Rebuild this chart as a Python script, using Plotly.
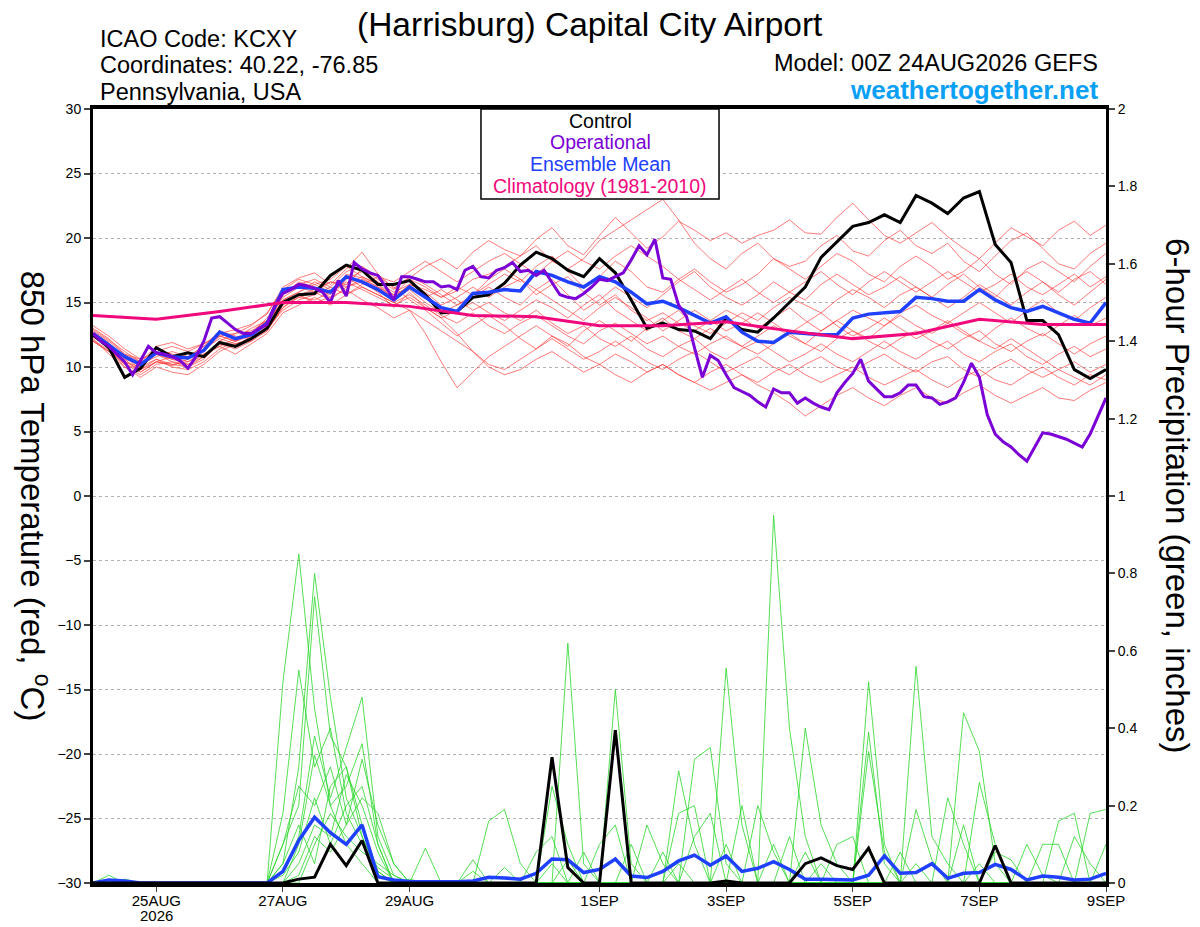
import pandas as pd
import plotly.graph_objects as go

# GEFS run 00Z 24AUG2026, 6-hourly steps out to 00Z 09SEP2026
times = pd.date_range("2026-08-24 00:00", periods=65, freq="6h")
times_3h = pd.date_range("2026-08-24 00:00", periods=129, freq="3h")
clim_days = pd.date_range("2026-08-24", periods=17, freq="D")

tick_days = ["2026-08-25", "2026-08-27", "2026-08-29", "2026-09-01",
             "2026-09-03", "2026-09-05", "2026-09-07", "2026-09-09"]
tick_text = ["25AUG", "27AUG", "29AUG", "1SEP", "3SEP", "5SEP", "7SEP", "9SEP"]

# 850 hPa temperature (C)
control_t = [12.5, 11.5, 9.2, 9.9, 11.5, 10.8, 11.1, 10.8, 11.9, 11.6,
             12.2, 13.0, 15.0, 15.6, 15.7, 17.1, 17.9, 17.5, 16.4, 16.4,
             16.7, 15.6, 14.2, 14.3, 15.4, 15.6, 16.5, 17.9, 18.9, 18.4,
             17.5, 17.0, 18.4, 17.3, 15.2, 13.0, 13.4, 12.9, 12.8, 12.2,
             13.8, 12.9, 12.7, 13.8, 15.0, 16.2, 18.5, 19.7, 20.9, 21.2,
             21.8, 21.2, 23.3, 22.7, 21.9, 23.1, 23.6, 19.5, 18.1, 13.6,
             13.6, 12.5, 9.8, 9.1, 9.8]
mean_t = [12.6, 11.7, 10.8, 10.2, 11.1, 10.8, 10.7, 11.3, 12.7, 12.2,
          12.5, 13.4, 16.0, 16.2, 16.1, 15.8, 17.0, 16.6, 16.0, 15.2,
          16.2, 15.4, 14.6, 14.3, 15.7, 15.8, 16.0, 15.9, 17.4, 17.1,
          16.6, 16.2, 17.0, 16.6, 15.8, 14.9, 15.1, 14.6, 14.0, 13.4,
          13.9, 12.7, 12.0, 11.9, 12.7, 12.6, 12.5, 12.5, 13.8, 14.1,
          14.2, 14.3, 15.4, 15.3, 15.1, 15.1, 16.0, 15.2, 14.6, 14.3,
          14.7, 14.2, 13.7, 13.4, 15.0]
# operational run is 3-hourly
oper_t = [12.6, 12.0, 11.6, 11.0, 10.4, 9.4, 10.5, 11.6, 11.1, 11.0,
          10.8, 10.5, 9.9, 10.8, 12.0, 13.8, 13.9, 13.4, 12.9, 12.6,
          12.6, 13.0, 13.3, 14.8, 15.7, 16.0, 16.4, 16.3, 16.1, 15.8,
          15.0, 16.7, 15.5, 18.1, 17.6, 17.3, 17.1, 16.2, 15.2, 17.0,
          17.0, 16.8, 16.6, 16.6, 16.2, 16.3, 16.0, 17.5, 17.8, 17.0,
          16.9, 17.5, 17.7, 18.1, 17.4, 17.5, 17.1, 17.5, 16.6, 15.6,
          15.4, 15.3, 15.7, 16.2, 16.8, 16.7, 17.0, 17.3, 18.3, 19.4,
          18.7, 19.9, 16.9, 16.8, 14.8, 13.9, 11.5, 9.2, 10.9, 10.5,
          9.4, 8.4, 8.1, 7.8, 7.3, 6.9, 8.3, 8.0, 8.0, 7.2,
          7.6, 7.2, 6.9, 6.7, 8.0, 8.8, 9.5, 10.6, 8.9, 8.3,
          7.7, 7.7, 8.0, 8.6, 8.6, 7.7, 7.6, 7.1, 7.3, 7.6,
          8.8, 10.3, 9.2, 6.3, 4.8, 4.2, 3.8, 3.2, 2.7, 3.8,
          4.9, 4.8, 4.6, 4.4, 4.1, 3.8, 4.8, 6.2, 7.6]
clim_t = [14.0, 13.7, 14.3, 15.0, 15.0, 14.7, 14.0, 13.9, 13.2, 13.2,
          13.5, 12.8, 12.2, 12.6, 13.7, 13.3, 13.3]

member_t = [
    [12.9, 12.1, 11.2, 10.4, 11.6, 11.9, 11.4, 11.8, 12.6, 12.9, 13.3, 14.1, 16.2,
     16.9, 17.3, 16.4, 17.6, 18.9, 17.2, 16.1, 16.9, 17.8, 18.4, 17.6, 18.9, 19.8,
     19.1, 18.6, 19.9, 20.8, 19.4, 18.7, 20.2, 21.6, 20.4, 19.2, 20.1, 21.3, 20.6,
     19.8, 20.4, 19.6, 20.2, 20.6, 21.4, 20.4, 20.3, 21.6, 22.7, 21.4, 20.2, 19.6,
     20.4, 21.2, 20.1, 19.2, 18.4, 19.6, 20.8, 20.1, 19.4, 20.6, 21.3, 20.2, 21.0],
    [12.4, 11.4, 10.2, 9.6, 10.4, 10.1, 10.6, 11.2, 12.4, 12.0, 12.6, 13.8, 15.6,
     16.4, 16.0, 15.6, 17.2, 16.9, 16.2, 15.6, 16.8, 16.2, 15.4, 15.9, 16.8, 17.2,
     17.8, 18.6, 19.4, 18.2, 17.6, 18.4, 19.8, 20.6, 21.4, 22.2, 23.0, 21.4, 19.6,
     18.4, 17.6, 18.8, 19.6, 18.4, 17.8, 18.2, 19.4, 20.2, 19.0, 18.6, 19.8, 20.6,
     19.4, 18.8, 19.6, 18.2, 17.4, 18.6, 19.8, 20.4, 19.2, 18.0, 17.6, 18.8, 19.6],
    [12.2, 11.0, 10.0, 9.4, 10.2, 10.4, 10.0, 10.6, 11.8, 11.6, 12.4, 13.2, 15.2,
     15.8, 16.4, 16.8, 17.8, 17.0, 16.4, 15.2, 16.0, 15.0, 14.2, 14.8, 15.6, 16.4,
     17.2, 16.6, 17.8, 18.6, 17.4, 16.2, 17.0, 18.2, 17.4, 16.2, 15.8, 16.8, 17.6,
     16.6, 15.8, 16.4, 17.2, 18.4, 17.6, 16.8, 17.8, 18.8, 18.2, 17.2, 16.6, 17.8,
     18.6, 17.8, 16.8, 17.4, 18.4, 17.2, 16.4, 17.6, 18.2, 17.4, 16.6, 17.8, 18.8],
    [13.2, 12.4, 11.4, 10.6, 11.0, 10.6, 10.2, 11.0, 11.6, 12.2, 13.0, 13.6, 15.4,
     16.2, 15.8, 16.6, 16.4, 17.6, 16.8, 16.0, 17.0, 16.4, 15.6, 14.8, 15.4, 16.2,
     15.4, 14.8, 16.0, 16.8, 15.6, 14.4, 15.2, 16.2, 15.4, 14.6, 15.6, 16.6, 17.4,
     16.2, 15.4, 14.8, 15.6, 16.6, 15.8, 15.2, 16.4, 17.2, 16.4, 15.6, 16.2, 17.0,
     16.2, 15.4, 16.4, 17.2, 16.2, 15.4, 16.6, 17.4, 16.6, 15.8, 16.8, 17.4, 16.4],
    [12.0, 11.2, 10.6, 10.2, 10.8, 11.2, 10.8, 11.6, 12.8, 12.4, 12.2, 13.0, 14.6,
     15.4, 15.8, 15.2, 16.2, 16.6, 15.8, 14.6, 15.8, 14.6, 13.8, 14.4, 15.0, 14.2,
     13.6, 14.4, 15.2, 14.6, 13.8, 14.8, 15.6, 14.4, 13.6, 12.8, 13.6, 14.4, 13.2,
     12.6, 13.4, 14.2, 13.6, 14.6, 15.4, 14.8, 14.2, 15.2, 16.0, 15.4, 14.6, 15.6,
     16.2, 15.4, 14.6, 15.4, 16.4, 15.6, 14.8, 15.8, 16.6, 15.6, 14.8, 15.8, 16.8],
    [12.6, 11.8, 10.4, 9.8, 11.4, 11.0, 10.6, 11.4, 12.2, 11.8, 12.0, 13.2, 15.6,
     16.6, 16.2, 15.4, 16.8, 17.4, 16.6, 15.8, 16.4, 15.8, 14.8, 15.4, 16.2, 15.4,
     16.2, 16.8, 15.6, 16.4, 17.0, 15.8, 14.8, 15.6, 14.4, 13.6, 14.2, 13.4, 12.8,
     13.6, 14.4, 13.8, 13.0, 13.8, 14.6, 13.6, 12.8, 13.6, 14.4, 13.8, 13.2, 14.2,
     14.8, 14.0, 13.4, 14.2, 15.0, 14.2, 13.4, 14.4, 15.2, 14.2, 13.6, 14.6, 15.4],
    [12.3, 11.6, 10.8, 10.0, 10.6, 10.2, 10.0, 10.8, 12.0, 12.6, 12.8, 13.6, 15.0,
     15.6, 15.0, 15.4, 16.0, 15.2, 14.6, 13.8, 14.4, 12.6, 10.4, 8.4, 9.6, 10.8,
     11.6, 12.4, 13.2, 12.4, 11.6, 12.8, 13.6, 12.8, 12.0, 13.0, 13.8, 12.8, 12.2,
     13.0, 12.2, 11.6, 12.4, 13.2, 12.4, 11.8, 12.8, 13.6, 12.8, 12.2, 13.2, 14.0,
     13.2, 12.6, 13.4, 12.6, 12.0, 13.0, 13.8, 13.0, 12.4, 13.2, 14.0, 13.2, 13.8],
    [13.0, 12.2, 11.0, 10.6, 11.2, 11.6, 11.2, 11.8, 12.4, 12.6, 13.2, 14.2, 16.0,
     16.8, 16.4, 15.8, 17.0, 16.2, 15.6, 15.0, 15.6, 14.8, 14.0, 13.4, 14.2, 13.2,
     12.6, 13.4, 14.0, 13.2, 12.4, 11.8, 12.8, 13.4, 12.6, 11.8, 12.4, 11.6, 11.0,
     11.8, 12.4, 11.6, 11.0, 11.8, 12.6, 11.8, 11.2, 12.2, 12.8, 12.0, 11.4, 12.2,
     12.8, 12.0, 11.4, 12.2, 12.8, 11.8, 11.2, 12.0, 12.6, 11.8, 11.0, 11.8, 12.4],
    [12.7, 11.9, 10.6, 9.6, 10.4, 10.8, 10.4, 11.2, 12.6, 12.2, 12.6, 13.4, 15.2,
     15.8, 16.6, 16.0, 16.4, 17.0, 16.4, 15.6, 16.2, 15.4, 16.0, 15.2, 14.4, 15.0,
     14.2, 13.6, 14.4, 13.4, 12.6, 13.2, 12.2, 11.6, 12.4, 11.4, 10.8, 11.6, 12.2,
     11.2, 10.6, 11.4, 12.0, 11.2, 10.4, 11.0, 11.8, 11.0, 10.4, 11.2, 12.0, 11.2,
     10.6, 11.4, 12.0, 11.0, 10.4, 11.2, 11.8, 10.8, 10.2, 11.0, 11.6, 10.8, 11.4],
    [12.1, 11.3, 10.4, 10.0, 11.0, 10.4, 10.2, 10.8, 11.8, 11.4, 12.0, 12.8, 14.8,
     15.4, 15.2, 15.8, 16.6, 16.0, 15.4, 14.8, 15.4, 14.6, 13.8, 12.6, 11.2, 10.2,
     9.8, 10.6, 11.4, 12.2, 11.4, 10.6, 11.2, 12.0, 11.2, 10.4, 9.8, 10.6, 11.2,
     10.4, 9.6, 10.2, 10.8, 10.0, 9.4, 10.2, 10.8, 10.0, 9.6, 10.4, 11.0, 10.2,
     9.6, 10.4, 10.8, 9.8, 9.2, 10.0, 10.6, 9.8, 9.2, 9.8, 10.4, 9.6, 10.2],
    [12.5, 11.6, 10.8, 9.8, 10.6, 10.0, 9.8, 10.4, 11.4, 12.0, 12.4, 13.0, 14.4,
     15.2, 15.6, 16.2, 15.6, 16.4, 17.0, 16.2, 15.2, 14.4, 13.4, 12.4, 13.2, 14.0,
     13.2, 12.2, 11.4, 12.4, 11.8, 10.8, 10.2, 11.0, 10.4, 9.6, 10.2, 9.4, 8.8,
     9.6, 10.2, 9.4, 8.8, 9.6, 10.2, 9.4, 8.8, 9.4, 10.0, 9.2, 8.6, 9.2,
     9.8, 9.0, 8.4, 9.2, 9.8, 9.0, 8.6, 9.4, 10.0, 9.2, 8.6, 9.4, 9.0],
    [12.0, 11.2, 10.2, 9.8, 10.4, 10.2, 10.4, 11.0, 11.6, 11.0, 11.8, 12.6, 14.2,
     14.8, 15.4, 14.8, 15.6, 16.2, 15.6, 15.0, 14.4, 13.6, 12.8, 12.0, 11.2, 10.0,
     9.4, 9.8, 10.6, 11.2, 10.4, 9.6, 10.2, 9.4, 8.8, 9.6, 10.2, 9.4, 8.8,
     8.2, 8.8, 9.4, 8.6, 8.0, 7.2, 6.2, 7.0, 7.8, 8.4, 7.6, 7.0, 7.8,
     8.4, 7.6, 7.2, 8.0, 8.6, 7.8, 7.2, 7.8, 8.4, 7.6, 7.4, 8.2, 8.8],
    [12.8, 12.0, 11.0, 10.4, 11.0, 10.6, 10.8, 11.6, 12.4, 12.0, 12.6, 13.6, 15.8,
     16.4, 16.8, 16.2, 17.4, 17.8, 17.0, 16.6, 17.4, 18.2, 17.4, 16.6, 17.4, 18.2,
     18.8, 18.0, 17.2, 18.2, 19.0, 18.2, 17.6, 18.6, 19.4, 18.6, 17.8, 16.8, 16.0,
     15.2, 16.0, 16.8, 15.8, 15.0, 15.8, 16.6, 17.4, 16.4, 15.6, 16.6, 17.4, 16.6,
     15.8, 16.6, 17.4, 16.6, 15.8, 16.4, 17.2, 16.2, 15.6, 16.4, 17.2, 16.2, 17.0],
    [12.4, 11.4, 10.0, 9.2, 10.0, 9.6, 9.4, 10.2, 11.2, 11.8, 12.2, 12.8, 14.6,
     15.6, 16.0, 16.6, 16.2, 16.8, 16.2, 15.4, 16.4, 16.0, 15.4, 16.2, 15.6, 16.8,
     17.6, 16.8, 16.0, 15.2, 14.4, 13.6, 14.6, 15.4, 14.6, 13.8, 12.8, 13.6, 14.4,
     13.6, 12.8, 13.4, 14.2, 13.4, 12.6, 13.4, 14.2, 13.2, 12.4, 13.0, 13.8, 13.0,
     12.2, 12.8, 13.6, 12.8, 12.0, 11.4, 12.2, 11.4, 10.6, 9.8, 9.2, 8.6, 9.4],
]

# 6-hour precipitation (inches)
control_p = [0, 0, 0, 0, 0, 0, 0, 0, 0, 0, 0, 0, 0,
             0.01, 0.015, 0.10, 0.045, 0.11, 0, 0, 0, 0, 0, 0, 0, 0,
             0, 0, 0, 0.325, 0.04, 0, 0, 0.395, 0, 0, 0, 0, 0,
             0, 0.005, 0, 0, 0, 0, 0.05, 0.065, 0.045, 0.035, 0.09, 0, 0,
             0, 0, 0, 0, 0, 0.097, 0, 0, 0, 0, 0, 0, 0]
mean_p = [0, 0.008, 0.005, 0, 0, 0, 0, 0, 0, 0, 0, 0, 0.03,
          0.11, 0.17, 0.13, 0.10, 0.15, 0.016, 0.008, 0.004, 0.003, 0.002, 0.003, 0.005, 0.015,
          0.013, 0.01, 0.025, 0.062, 0.06, 0.027, 0.035, 0.062, 0.018, 0.014, 0.03, 0.057, 0.072,
          0.046, 0.07, 0.03, 0.038, 0.055, 0.035, 0.01, 0.01, 0.008, 0.008, 0.02, 0.07, 0.025,
          0.027, 0.05, 0.012, 0.025, 0.027, 0.048, 0.035, 0.008, 0.018, 0.015, 0.008, 0.01, 0.025]

member_p = [
    [0, 0, 0, 0, 0, 0, 0, 0, 0, 0, 0, 0, 0.52,
     0.85, 0.45, 0.2, 0.1, 0.05, 0, 0, 0, 0, 0, 0, 0, 0,
     0, 0, 0, 0.05, 0, 0, 0, 0, 0, 0, 0, 0, 0,
     0, 0, 0, 0, 0.1, 0, 0, 0, 0, 0, 0, 0, 0,
     0.05, 0, 0, 0, 0, 0, 0, 0, 0, 0, 0, 0, 0],
    [0, 0, 0, 0, 0, 0, 0, 0, 0, 0, 0, 0, 0.05,
     0.3, 0.8, 0.48, 0.22, 0.12, 0.02, 0, 0, 0, 0, 0, 0, 0,
     0, 0, 0, 0, 0.62, 0.05, 0, 0, 0, 0, 0, 0, 0,
     0, 0.1, 0, 0, 0, 0, 0, 0, 0, 0, 0.52, 0.1, 0,
     0, 0, 0, 0, 0, 0, 0, 0, 0, 0, 0, 0, 0],
    [0, 0, 0, 0, 0, 0, 0, 0, 0, 0, 0, 0, 0.1,
     0.2, 0.74, 0.38, 0.3, 0.15, 0.03, 0, 0, 0, 0, 0, 0, 0,
     0, 0, 0, 0, 0, 0, 0, 0, 0, 0, 0, 0, 0,
     0, 0, 0, 0, 0.95, 0.4, 0.12, 0, 0, 0, 0, 0, 0,
     0, 0, 0, 0, 0.05, 0, 0, 0, 0, 0, 0, 0, 0],
    [0, 0, 0, 0, 0, 0, 0, 0, 0, 0, 0, 0, 0.18,
     0.55, 0.3, 0.4, 0.18, 0.1, 0.04, 0.01, 0, 0, 0, 0, 0, 0,
     0, 0, 0, 0, 0, 0, 0, 0.5, 0.05, 0, 0, 0, 0,
     0, 0, 0, 0, 0, 0, 0, 0, 0, 0, 0, 0, 0,
     0.56, 0.12, 0.05, 0, 0, 0, 0, 0, 0, 0, 0, 0, 0],
    [0, 0, 0, 0, 0, 0, 0, 0, 0, 0, 0, 0, 0.03,
     0.12, 0.38, 0.22, 0.35, 0.48, 0.12, 0.02, 0, 0, 0, 0, 0, 0,
     0, 0, 0, 0, 0, 0, 0, 0, 0, 0, 0, 0, 0,
     0, 0.555, 0.15, 0, 0, 0, 0.4, 0.15, 0.05, 0, 0, 0, 0,
     0, 0, 0, 0.44, 0.34, 0.05, 0, 0, 0, 0, 0, 0, 0],
    [0, 0, 0, 0, 0, 0, 0, 0, 0, 0, 0, 0, 0,
     0.1, 0.33, 0.2, 0.25, 0.36, 0.1, 0, 0.01, 0, 0, 0, 0, 0.16,
     0.19, 0.05, 0, 0, 0, 0, 0, 0, 0, 0, 0, 0.29, 0.1,
     0, 0, 0, 0, 0, 0, 0, 0, 0, 0, 0.39, 0.05, 0,
     0, 0, 0, 0, 0, 0, 0, 0, 0, 0, 0, 0.18, 0.19],
    [0, 0, 0, 0, 0, 0, 0, 0, 0, 0, 0, 0, 0.1,
     0.25, 0.2, 0.3, 0.15, 0.32, 0.15, 0.05, 0, 0, 0, 0, 0, 0,
     0, 0, 0, 0.25, 0.1, 0, 0, 0, 0, 0, 0, 0, 0.32,
     0.35, 0.05, 0, 0, 0, 0, 0, 0, 0, 0, 0, 0, 0,
     0, 0, 0, 0, 0.26, 0.1, 0, 0, 0, 0, 0, 0, 0],
    [0, 0, 0, 0, 0, 0, 0, 0, 0, 0, 0, 0, 0,
     0.05, 0.15, 0.12, 0.28, 0.2, 0.08, 0, 0, 0.09, 0, 0, 0, 0,
     0, 0, 0, 0, 0, 0, 0.1, 0.15, 0, 0, 0.08, 0, 0,
     0, 0, 0, 0.2, 0.08, 0, 0, 0, 0, 0, 0.34, 0.08, 0,
     0, 0, 0.22, 0.1, 0, 0, 0, 0, 0.1, 0.1, 0, 0, 0],
    [0, 0, 0, 0, 0, 0, 0, 0, 0, 0, 0, 0, 0.02,
     0.08, 0.22, 0.1, 0.2, 0.25, 0.1, 0, 0, 0, 0, 0, 0, 0,
     0, 0, 0.08, 0.12, 0, 0, 0, 0, 0, 0.15, 0.05, 0, 0,
     0, 0, 0, 0, 0, 0.12, 0, 0, 0, 0, 0, 0, 0,
     0.19, 0.06, 0, 0, 0, 0, 0, 0, 0, 0, 0.12, 0.05, 0],
    [0, 0.02, 0, 0, 0, 0, 0, 0, 0, 0, 0, 0, 0,
     0, 0.1, 0.18, 0.12, 0.08, 0.05, 0.02, 0, 0, 0, 0, 0.06, 0,
     0, 0, 0, 0, 0, 0.08, 0, 0, 0, 0, 0, 0, 0.12,
     0.18, 0, 0, 0, 0, 0, 0, 0, 0.1, 0.12, 0, 0, 0,
     0, 0, 0, 0, 0, 0.08, 0.06, 0, 0, 0, 0, 0, 0.1],
    [0, 0, 0, 0, 0, 0, 0, 0, 0, 0, 0, 0, 0.05,
     0.15, 0.05, 0.25, 0.3, 0.12, 0.03, 0, 0, 0, 0, 0, 0, 0,
     0.04, 0, 0, 0, 0, 0, 0, 0, 0.1, 0, 0, 0.05, 0,
     0, 0, 0.2, 0, 0, 0, 0.08, 0, 0, 0, 0, 0, 0,
     0, 0, 0, 0.15, 0, 0, 0, 0.1, 0.02, 0, 0, 0, 0],
    [0, 0, 0.01, 0, 0, 0, 0, 0, 0, 0, 0, 0, 0,
     0.02, 0.12, 0.08, 0.15, 0.22, 0.18, 0.05, 0, 0, 0, 0, 0.03, 0,
     0, 0, 0, 0, 0.06, 0, 0, 0, 0, 0, 0, 0.18, 0.2,
     0, 0, 0, 0, 0, 0, 0, 0.05, 0, 0, 0, 0, 0.08,
     0, 0, 0, 0, 0, 0, 0, 0, 0, 0.16, 0.18, 0, 0],
]

FONT = "Liberation Sans, Arial, sans-serif"
RED = "rgba(255,45,45,0.8)"
GREEN = "rgb(40,215,40)"
BLUE = "#2040ff"
PURPLE = "#7b00d6"
PINK = "#f0087c"

fig = go.Figure()

for m in member_t:
    fig.add_trace(go.Scatter(x=times, y=m, mode="lines",
                             line=dict(color=RED, width=0.8), yaxis="y"))
for m in member_p:
    fig.add_trace(go.Scatter(x=times, y=m, mode="lines",
                             line=dict(color=GREEN, width=0.8), yaxis="y2"))

fig.add_trace(go.Scatter(x=times, y=mean_p, mode="lines",
                         line=dict(color=BLUE, width=3.5), yaxis="y2"))
fig.add_trace(go.Scatter(x=times, y=control_p, mode="lines",
                         line=dict(color="black", width=3), yaxis="y2"))
fig.add_trace(go.Scatter(x=times, y=control_t, mode="lines",
                         line=dict(color="black", width=3), yaxis="y"))
fig.add_trace(go.Scatter(x=times, y=mean_t, mode="lines",
                         line=dict(color=BLUE, width=3.5), yaxis="y"))
fig.add_trace(go.Scatter(x=times_3h, y=oper_t, mode="lines",
                         line=dict(color=PURPLE, width=3), yaxis="y"))
fig.add_trace(go.Scatter(x=clim_days, y=clim_t, mode="lines",
                         line=dict(color=PINK, width=3), yaxis="y"))

fig.update_traces(showlegend=False, hoverinfo="skip")

fig.update_layout(
    width=1200, height=927,
    margin=dict(l=93, r=94, t=109, b=44),
    paper_bgcolor="white", plot_bgcolor="white",
    font=dict(family=FONT, color="black"),
    xaxis=dict(
        type="date", range=["2026-08-24 00:00", "2026-09-09 00:00"],
        tickvals=tick_days, ticktext=tick_text, automargin=False,
        tickfont=dict(size=15), ticks="outside", ticklen=5, tickwidth=1,
        ticklabelstandoff=-4,
        showgrid=False, zeroline=False,
        showline=True, linewidth=4, linecolor="black", mirror=True,
    ),
    yaxis=dict(
        range=[-30, 30], dtick=5, tickfont=dict(size=14), automargin=False,
        ticks="outside", ticklen=6, tickwidth=1.5,
        showgrid=True, gridcolor="#b0b0b0", griddash="dot", gridwidth=1,
        zeroline=False, showline=True, linewidth=3, linecolor="black",
    ),
    yaxis2=dict(
        range=[0, 2], dtick=0.2, overlaying="y", side="right", automargin=False,
        tickfont=dict(size=14), ticks="outside", ticklen=6, tickwidth=1.5,
        showgrid=False, zeroline=False,
        showline=True, linewidth=3, linecolor="black",
    ),
)


def note(txt, x, y, size, color="black", xanchor="center", angle=0):
    fig.add_annotation(text=txt, xref="paper", yref="paper", x=x, y=y,
                       xanchor=xanchor, yanchor="middle", textangle=angle,
                       showarrow=False, font=dict(size=size, color=color))


# year under the first date tick
fig.add_annotation(text="2026", xref="x", yref="paper", x=tick_days[0], y=-0.042,
                   xanchor="center", yanchor="middle", showarrow=False,
                   font=dict(size=15))

# legend box
fig.add_shape(type="rect", xref="paper", yref="paper",
              x0=0.383, x1=0.618, y0=0.8837, y1=1.0,
              fillcolor="white", line=dict(color="black", width=1.5), layer="above")
legend_rows = [("Control", "black", 0.9845), ("Operational", PURPLE, 0.9574),
               ("Ensemble Mean", BLUE, 0.9289), ("Climatology (1981-2010)", PINK, 0.9005)]
for txt, col, yy in legend_rows:
    note(txt, 0.5005, yy, 19.5, col)

note("(Harrisburg) Capital City Airport", 0.4906, 1.1098, 33.5)
for txt, yy in [("ICAO Code: KCXY", 1.0898), ("Coordinates: 40.22, -76.85", 1.0568),
                ("Pennsylvania, USA", 1.022)]:
    note(txt, 0.0049, yy, 23.5, xanchor="left")
note("Model: 00Z 24AUG2026 GEFS", 0.9941, 1.0594, 23.5, xanchor="right")
note("<b>weathertogether.net</b>", 0.9941, 1.0245, 26, "#0aa0f5", xanchor="right")

note("850 hPa Temperature (red, <sup>o</sup>C)", -0.057, 0.5, 33, angle=90)
note("6-hour Precipitation (green, inches)", 1.071, 0.5, 33, angle=90)

# drop the default page margin so the figure sits at the window's top-left corner
fig.write_html("out.html", config={"displayModeBar": False},
               post_script="document.body.style.margin='0px';")
